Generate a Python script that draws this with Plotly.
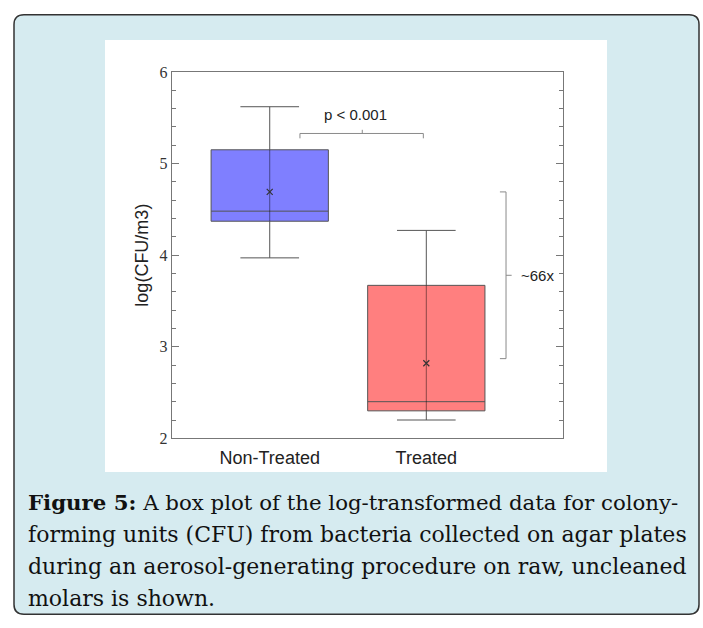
import plotly.graph_objects as go

# ---- data ----
categories = ["Non-Treated", "Treated"]
positions = [0, 1]
lower_whisker = [3.97, 2.20]
q1 = [4.37, 2.30]
median = [4.48, 2.40]
q3 = [5.15, 3.67]
upper_whisker = [5.62, 4.27]
means = [4.69, 2.82]
fill_colors = ["rgba(0,0,255,0.5)", "rgba(255,0,0,0.5)"]
y_ticks = [2, 3, 4, 5, 6]
p_label = "p < 0.001"
fold_label = "~66x"
fold_span = [2.87, 4.69]  # log values bracketed by the fold-change marker
p_bracket_y = 5.328

W, H = 703, 628

fig = go.Figure()

for i in range(len(categories)):
    fig.add_trace(go.Box(
        x=[positions[i]], q1=[q1[i]], median=[median[i]], q3=[q3[i]],
        lowerfence=[lower_whisker[i]], upperfence=[upper_whisker[i]],
        width=0.749, whiskerwidth=0.5,
        fillcolor=fill_colors[i],
        line=dict(color="#555555", width=1),
        boxpoints=False, showlegend=False, hoverinfo="skip",
    ))
    # whisker line continuing through the translucent box
    fig.add_trace(go.Scatter(
        x=[positions[i], positions[i]], y=[q1[i], q3[i]], mode="lines",
        line=dict(color="rgba(0,0,0,0.45)", width=1),
        showlegend=False, hoverinfo="skip",
    ))
    fig.add_trace(go.Scatter(
        x=[positions[i]], y=[means[i]], mode="markers",
        marker=dict(symbol="x-thin-open", size=6, color="#333333",
                    line=dict(color="#333333", width=1.2)),
        showlegend=False, hoverinfo="skip",
    ))

shapes = []
# outer rounded light-blue frame
x0, x1, y0, y1, r = 14 / W, 699 / W, 1 - 7 / H, 1 - 623 / H, 10
rx, ry = r / W, r / H
path = (f"M {x0+rx},{y0} L {x1-rx},{y0} Q {x1},{y0} {x1},{y0-ry} "
        f"L {x1},{y1+ry} Q {x1},{y1} {x1-rx},{y1} L {x0+rx},{y1} "
        f"Q {x0},{y1} {x0},{y1+ry} L {x0},{y0-ry} Q {x0},{y0} {x0+rx},{y0} Z")
shapes.append(dict(type="path", xref="paper", yref="paper", path=path,
                   fillcolor="#d6ebf0", line=dict(color="#333333", width=1.5), layer="below"))
# white chart panel
shapes.append(dict(type="rect", xref="paper", yref="paper",
                   x0=105 / W, x1=607 / W, y0=1 - 33 / H, y1=1 - 477 / H,
                   fillcolor="white", line=dict(width=0), layer="below"))

br = dict(color="#8a8a8a", width=1)
# p-value bracket
shapes.append(dict(type="path", xref="x", yref="y", line=br,
                   path=f"M 0.193,{p_bracket_y-0.053} L 0.193,{p_bracket_y} L 0.981,{p_bracket_y} L 0.981,{p_bracket_y-0.053}"))
shapes.append(dict(type="line", xref="x", yref="y", line=br,
                   x0=0.591, x1=0.591, y0=p_bracket_y, y1=p_bracket_y + 0.04))
# fold-change bracket
mid = (fold_span[0] + fold_span[1]) / 2
shapes.append(dict(type="path", xref="x", yref="y", line=br,
                   path=f"M 1.47,{fold_span[1]} L 1.509,{fold_span[1]} L 1.509,{fold_span[0]} L 1.47,{fold_span[0]}"))
shapes.append(dict(type="line", xref="x", yref="y", line=br,
                   x0=1.509, x1=1.545, y0=mid, y1=mid))

annotations = [
    dict(x=0.545, y=5.54, xref="x", yref="y", text=p_label, showarrow=False,
         font=dict(family="Liberation Sans, Arial", size=15, color="#222222")),
    dict(x=1.595, y=mid, xref="x", yref="y", text=fold_label, showarrow=False, xanchor="left",
         font=dict(family="Liberation Sans, Arial", size=15, color="#222222")),
]

caption = [
    "<b>Figure 5:</b> A box plot of the log-transformed data for colony-",
    "forming units (CFU) from bacteria collected on agar plates",
    "during an aerosol-generating procedure on raw, uncleaned",
    "molars is shown.",
]
line_y = [508, 541, 574, 607]
line_size = [21.3, 22, 22, 22]
for t, yy, sz in zip(caption, line_y, line_size):
    annotations.append(dict(x=26 / W, y=1 - yy / H, xref="paper", yref="paper", text=t,
                            showarrow=False, xanchor="left", yanchor="middle",
                            font=dict(family="DejaVu Serif", size=sz, color="#111111")))

fig.update_layout(
    width=W, height=H, margin=dict(l=0, r=0, t=0, b=0),
    paper_bgcolor="white", plot_bgcolor="white",
    shapes=shapes, annotations=annotations, showlegend=False,
    xaxis=dict(domain=[171.7 / W, 562.7 / W], range=[-0.626, 1.871],
               tickvals=positions, ticktext=categories, ticks="", showgrid=False,
               zeroline=False, showline=True, linecolor="#777777", linewidth=1, mirror=True,
               ticklabelstandoff=3,
               tickfont=dict(family="Liberation Sans, Arial", size=18, color="#222222")),
    yaxis=dict(domain=[1 - 442.3 / H, 1 - 65.7 / H], range=[2, 6],
               tickvals=y_ticks, ticks="inside", ticklen=7, tickcolor="#777777",
               showgrid=False, zeroline=False, showline=True, linecolor="#777777",
               linewidth=1, mirror="ticks",
               minor=dict(dtick=0.2, ticks="inside", ticklen=4, tickcolor="#777777", showgrid=False),
               tickfont=dict(family="Liberation Serif, Times New Roman", size=16, color="#333333"),
               title=dict(text="log(CFU/m3)", standoff=6,
                          font=dict(family="Liberation Sans, Arial", size=18, color="#222222"))),
)

fig.write_html("out.html", post_script="document.body.style.margin='0';",
               config={"displayModeBar": False})
